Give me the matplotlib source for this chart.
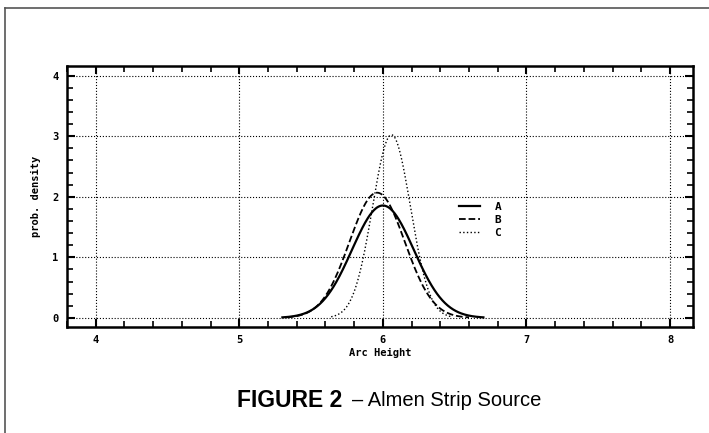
import numpy as np
import matplotlib.pyplot as plt
from matplotlib.lines import Line2D

# distribution parameters (mean, std) and drawn range
series_names = ['A', 'B', 'C']
series_mean = [6.00, 5.96, 6.06]
series_std = [0.215, 0.193, 0.132]
series_start = [5.30, 5.33, 5.64]
series_end = [6.70, 6.60, 6.48]
series_styles = ['-', '--', ':']

x_ticks = [4, 5, 6, 7, 8]
y_ticks = [0, 1, 2, 3, 4]

fig = plt.figure(figsize=(7.09, 4.33), dpi=100)
ax = fig.add_axes([0.0945, 0.2448, 0.883, 0.603])

for name, m, s, a, b, ls in zip(series_names, series_mean, series_std,
                                series_start, series_end, series_styles):
    xs = np.linspace(a, b, 300)
    ys = np.exp(-0.5 * ((xs - m) / s) ** 2) / (s * np.sqrt(2 * np.pi))
    lw = 1.6 if ls == '-' else (1.3 if ls == '--' else 1.0)
    ax.plot(xs, ys, color='black', linestyle=ls, linewidth=lw, label=name)

ax.set_xlim(3.84, 8.16)
ax.set_ylim(-0.15, 4.16)
ax.set_xticks(x_ticks)
ax.set_yticks(y_ticks)
ax.set_xticks(np.arange(3.8, 8.2, 0.2), minor=True)
ax.set_yticks(np.arange(0, 4.1, 0.2), minor=True)
ax.tick_params(which='both', direction='in', top=True, right=True, color='black')
ax.tick_params(which='major', length=6, width=1.5, labelsize=7.5, pad=6)
ax.tick_params(which='minor', length=4, width=1.2)
for lab in ax.get_xticklabels() + ax.get_yticklabels():
    lab.set_fontfamily('DejaVu Sans Mono')
    lab.set_fontweight('bold')
ax.grid(True, which='major', linestyle=':', color='black', linewidth=0.8)
for sp in ax.spines.values():
    sp.set_linewidth(1.8)

ax.set_xlabel('Arc Height', family='DejaVu Sans Mono', fontweight='bold',
              fontsize=7.5, labelpad=2)
ax.set_ylabel('prob. density', family='DejaVu Sans Mono', fontweight='bold',
              fontsize=7.5, labelpad=8)

ax.legend(loc='center left', bbox_to_anchor=(0.61, 0.41), frameon=False,
          handlelength=1.9, handletextpad=1.3, labelspacing=0.3,
          prop={'family': 'DejaVu Sans Mono', 'weight': 'bold', 'size': 8})

# scanned page frame
fig.add_artist(Line2D([0.007, 1.0], [0.982, 0.982], transform=fig.transFigure,
                      color='#555555', linewidth=1.2))
fig.add_artist(Line2D([0.007, 0.007], [0.0, 0.982], transform=fig.transFigure,
                      color='#555555', linewidth=1.2))

fig.text(0.334, 0.075, 'FIGURE 2', fontsize=16.5, fontweight='bold',
         family='Liberation Sans', ha='left', va='center')
fig.text(0.496, 0.075, '\u2013 Almen Strip Source', fontsize=14.5,
         family='Liberation Sans', ha='left', va='center')

fig.savefig('out.png', dpi=100)
